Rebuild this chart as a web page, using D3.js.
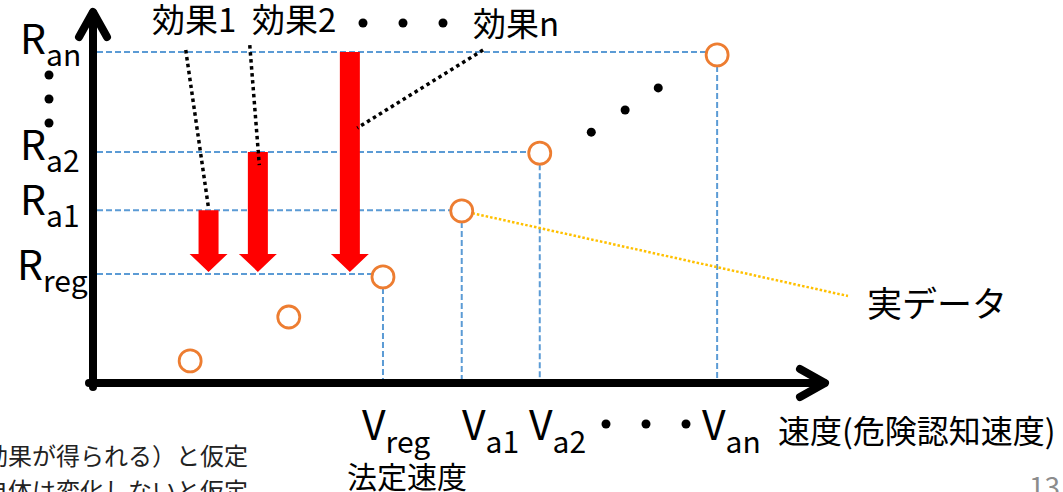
<!DOCTYPE html>
<html><head><meta charset="utf-8">
<script src="https://cdn.jsdelivr.net/npm/d3@7"></script>
<style>
html,body{margin:0;padding:0;background:#fff;}
svg{display:block;font-family:"Noto Sans CJK JP","Noto Sans",sans-serif;}
</style></head>
<body>
<svg id="c" width="1063" height="492"></svg>
<script>
// ---- data ----
const pointX = [13.2, 26.6, 39.4, 50.1, 60.7, 84.8];
const pointY = [5.9, 17.6, 28.3, 45.9, 61.3, 87.5];
const refLevels = [29.1, 46.1, 61.6, 88.3];          // R_reg, R_a1, R_a2, R_an
const refPointIdx = [2, 3, 4, 5];
const rMain = ["R", "R", "R", "R"];
const rSub = ["reg", "a1", "a2", "an"];
const vMain = ["V", "V", "V", "V"];
const vSub = ["reg", "a1", "a2", "an"];
const effectX = [15.7, 22.4, 34.9];
const effectTop = [46.1, 61.6, 88.3];
const effectLabels = ["効果1", "効果2", "効果n"];
const leaderStart = [[12.6, 88.8], [21.3, 90.1], [53.0, 88.8]];
const leaderEnd = [[15.7, 46.6], [22.6, 58.1], [35.9, 68.0]];
const ellipsisX = [67.7, 72.3, 76.8];
const ellipsisY = [66.9, 72.8, 78.7];
const xAxisTitle = "速度(危険認知速度)";
const regLabel = "法定速度";
const dataLabel = "実データ";
const noteLines = ["効果が得られる）と仮定", "自体は変化しないと仮定"];
const pageNum = "13";

// ---- scales ----
const svg = d3.select("#c");
const x = d3.scaleLinear().domain([0, 100]).range([93, 829]);
const y = d3.scaleLinear().domain([0, 100]).range([383, 8]);
const R = 11;
const blue = "#5B9BD5", orange = "#ED7D31";

// dashed reference lines
const g = svg.append("g");
refLevels.forEach((lv, i) => {
  const pi = refPointIdx[i];
  g.append("line").attr("x1", x(0) + 4).attr("x2", x(pointX[pi]) - R + 1)
    .attr("y1", y(lv)).attr("y2", y(lv))
    .attr("stroke", blue).attr("stroke-width", 2).attr("stroke-dasharray", "6 3");
  g.append("line").attr("x1", x(pointX[pi])).attr("x2", x(pointX[pi]))
    .attr("y1", y(pointY[pi]) + R).attr("y2", y(0) - 4)
    .attr("stroke", blue).attr("stroke-width", 2).attr("stroke-dasharray", "6 3");
});

// red effect arrows
const bw = 10, hw = 19, hh = 18;
const tipY = y(refLevels[0]) - 2;
effectX.forEach((ex, i) => {
  const cx = x(ex), top = y(effectTop[i]);
  const pts = [[cx - bw, top], [cx + bw, top], [cx + bw, tipY - hh], [cx + hw, tipY - hh],
               [cx, tipY], [cx - hw, tipY - hh], [cx - bw, tipY - hh]];
  svg.append("path").attr("d", d3.line()(pts) + "Z").attr("fill", "#FF0000");
});

// leaders
leaderStart.forEach((s, i) => {
  const e = leaderEnd[i];
  svg.append("line").attr("x1", x(s[0])).attr("y1", y(s[1])).attr("x2", x(e[0])).attr("y2", y(e[1]))
    .attr("stroke", "#000").attr("stroke-width", 3.5).attr("stroke-dasharray", "3.5 3.5");
});

// yellow leader from R_a1 point to 実データ
{
  const px = x(pointX[3]), py = y(pointY[3]);
  const ex = 848, ey = 296;
  const dx = ex - px, dy = ey - py, L = Math.hypot(dx, dy);
  svg.append("line").attr("x1", px + dx / L * R).attr("y1", py + dy / L * R)
    .attr("x2", ex).attr("y2", ey)
    .attr("stroke", "#FFC000").attr("stroke-width", 2.5).attr("stroke-dasharray", "2.5 2");
}

// ellipsis dots in plot
ellipsisX.forEach((ex, i) => {
  svg.append("circle").attr("cx", x(ex)).attr("cy", y(ellipsisY[i])).attr("r", 4.5).attr("fill", "#000");
});

// data points
svg.selectAll("circle.pt").data(pointX).join("circle").attr("class", "pt")
  .attr("cx", d => x(d)).attr("cy", (d, i) => y(pointY[i])).attr("r", R)
  .attr("fill", "#fff").attr("stroke", orange).attr("stroke-width", 2.8);

// axes with arrowheads
const ax = svg.append("g").attr("stroke", "#000").attr("stroke-width", 8).attr("fill", "none")
  .attr("stroke-linecap", "round").attr("stroke-linejoin", "round");
ax.append("line").attr("x1", x(0)).attr("y1", y(0) + 4).attr("x2", x(0)).attr("y2", 13);
ax.append("path").attr("d", d3.line()([[79, 37], [x(0), 12], [107, 37]]));
ax.append("line").attr("x1", x(0) - 4).attr("y1", y(0)).attr("x2", 824).attr("y2", y(0));
ax.append("path").attr("d", d3.line()([[800, 369], [825, y(0)], [800, 397]]));

// R labels
const rLabelX = [17, 20, 20, 20];
const rBaseOff = [6, 5, 8, 2];
refLevels.forEach((lv, i) => {
  const t = svg.append("text").attr("x", rLabelX[i]).attr("y", y(lv) + rBaseOff[i])
    .attr("font-size", 41).attr("fill", "#000");
  t.append("tspan").text(rMain[i]);
  t.append("tspan").attr("font-size", 30).attr("dy", 12).text(rSub[i]);
});
[75, 99, 123].forEach(cy => svg.append("circle").attr("cx", 49).attr("cy", cy).attr("r", 4.5).attr("fill", "#000"));

// V labels
const vLabelX = [362, 462, 529, 702];
vSub.forEach((s, i) => {
  const t = svg.append("text").attr("x", vLabelX[i]).attr("y", 440).attr("font-size", 41).attr("fill", "#000");
  t.append("tspan").text(vMain[i]);
  t.append("tspan").attr("font-size", 30).attr("dy", 13).text(s);
});
[606, 646, 686].forEach(cx => svg.append("circle").attr("cx", cx).attr("cy", 424).attr("r", 4.5).attr("fill", "#000"));

// effect labels
const effLabelX = [152, 252, 473];
const effLabelY = [32, 32, 36];
effectLabels.forEach((t, i) => {
  svg.append("text").attr("x", effLabelX[i]).attr("y", effLabelY[i]).attr("font-size", 33).attr("fill", "#000").text(t);
});
[363, 403, 443].forEach(cx => svg.append("circle").attr("cx", cx).attr("cy", 23).attr("r", 4.5).attr("fill", "#000"));

// other texts
svg.append("text").attr("x", 778).attr("y", 443).attr("font-size", 32).attr("fill", "#000").text(xAxisTitle);
svg.append("text").attr("x", 347).attr("y", 488).attr("font-size", 30).attr("fill", "#000").text(regLabel);
svg.append("text").attr("x", 867).attr("y", 317).attr("font-size", 35).attr("fill", "#000").text(dataLabel);
svg.append("text").attr("x", 1060).attr("y", 497).attr("text-anchor", "end").attr("font-size", 28).attr("fill", "#8c8c8c").text(pageNum);
noteLines.forEach((t, i) => {
  svg.append("text").attr("x", 248).attr("y", 465 + i * 35).attr("text-anchor", "end")
    .attr("font-size", 24).attr("fill", "#222").text(t);
});
</script>
</body></html>
